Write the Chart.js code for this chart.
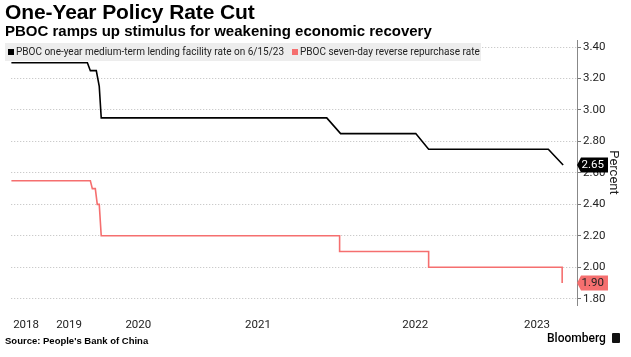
<!DOCTYPE html>
<html>
<head>
<meta charset="utf-8">
<script src="https://cdn.jsdelivr.net/npm/chart.js@4"></script>
<style>
  html, body { margin:0; padding:0; background:#fff; }
  #wrap { position:relative; width:631px; height:357px; overflow:hidden; font-family:"Liberation Sans", Arial, sans-serif; }
  #c { position:absolute; left:0; top:0; }
  .title { position:absolute; left:5px; top:0px; font-size:21px; font-weight:bold; color:#000; white-space:nowrap; letter-spacing:-0.1px; }
  .subtitle { position:absolute; left:5px; top:22px; font-size:15px; font-weight:bold; color:#000; white-space:nowrap; }
  .legend { position:absolute; left:5px; top:43px; width:476px; height:18px; background:#ededed; font-size:10px; color:#222; white-space:nowrap; font-family:"Roboto", sans-serif; }
  .legend span.item { position:absolute; top:3px; }
  .legend i { display:inline-block; width:6px; height:6px; margin-right:2px; vertical-align:0px; }
  .source { position:absolute; left:5px; top:335px; font-size:9.5px; font-weight:bold; color:#000; white-space:nowrap; }
  .bbg { position:absolute; left:547px; top:331px; font-size:12px; color:#000; white-space:nowrap; font-family:"Roboto", sans-serif; font-weight:500; }
  .logo { position:absolute; left:612px; top:333px; width:8px; height:10px; background:#111; border-radius:1px; }
</style>
</head>
<body>
<div id="wrap">
  <canvas id="c" width="631" height="357"></canvas>
  <div class="title">One-Year Policy Rate Cut</div>
  <div class="subtitle">PBOC ramps up stimulus for weakening economic recovery</div>
  <div class="legend">
    <span class="item" style="left:3px"><i style="background:#000"></i>PBOC one-year medium-term lending facility rate on 6/15/23</span>
    <span class="item" style="left:287px"><i style="background:#f56f6f"></i>PBOC seven-day reverse repurchase rate</span>
  </div>
  <div class="source">Source: People's Bank of China</div>
  <div class="bbg">Bloomberg</div>
  <div class="logo"></div>
</div>
<script>
// Observation positions (irregular observation index along the x axis) and rates (%)
const mlfPos  = [0, 15.4, 16.0, 17.2, 17.8, 18.2, 63.8, 66.6, 81.8, 84.4, 108.6, 111.6];
const mlfRate = [3.30, 3.30, 3.25, 3.25, 3.15, 2.95, 2.95, 2.85, 2.85, 2.75, 2.75, 2.65];

const rrPos  = [0, 16.0, 16.4, 17.0, 17.4, 17.8, 18.2, 66.4, 66.4, 84.4, 84.4, 111.4, 111.4];
const rrRate = [2.55, 2.55, 2.50, 2.50, 2.40, 2.40, 2.20, 2.20, 2.10, 2.10, 2.00, 2.00, 1.90];

// Year labels and their positions on the observation index
const xTickPos    = [3.0, 11.7, 25.7, 49.9, 81.7, 106.3];
const xTickLabels = ['2018', '2019', '2020', '2021', '2022', '2023'];

const yTickValues = [1.8, 1.9, 2.0, 2.1, 2.2, 2.3, 2.4, 2.5, 2.6, 2.7, 2.8, 2.9, 3.0, 3.1, 3.2, 3.3, 3.4];
const yTickLabels = ['1.80', '', '2.00', '', '2.20', '', '2.40', '', '2.60', '', '2.80', '', '3.00', '', '3.20', '', '3.40'];

const BLACK = '#000000';
const RED = '#f56f6f';

const endLabels = {
  id: 'endLabels',
  afterDraw(chart) {
    const ctx = chart.ctx;
    const ys = chart.scales.y;
    const x0 = chart.chartArea.right;
    const items = [
      { v: mlfRate[mlfRate.length - 1], bg: BLACK, fg: '#ffffff' },
      { v: rrRate[rrRate.length - 1], bg: RED, fg: '#222222' }
    ];
    ctx.save();
    ctx.font = '11.5px "Roboto", sans-serif';
    items.forEach(it => {
      const y = ys.getPixelForValue(it.v);
      const h = 15, w = 27, a = 4;
      ctx.fillStyle = it.bg;
      ctx.beginPath();
      ctx.moveTo(x0, y);
      ctx.lineTo(x0 + a, y - h / 2);
      ctx.lineTo(x0 + a + w, y - h / 2);
      ctx.lineTo(x0 + a + w, y + h / 2);
      ctx.lineTo(x0 + a, y + h / 2);
      ctx.closePath();
      ctx.fill();
      ctx.fillStyle = it.fg;
      ctx.textAlign = 'left';
      ctx.textBaseline = 'middle';
      ctx.fillText(it.v.toFixed(2), x0 + a + 0.5, y + 0.5);
    });
    ctx.restore();
  }
};

new Chart(document.getElementById('c'), {
  type: 'line',
  data: {
    datasets: [
      {
        label: 'PBOC one-year medium-term lending facility rate on 6/15/23',
        data: mlfPos.map((p, i) => ({ x: p, y: mlfRate[i] })),
        borderColor: BLACK, borderWidth: 1.6, pointRadius: 0, tension: 0
      },
      {
        label: 'PBOC seven-day reverse repurchase rate',
        data: rrPos.map((p, i) => ({ x: p, y: rrRate[i] })),
        borderColor: RED, borderWidth: 1.6, pointRadius: 0, tension: 0
      }
    ]
  },
  options: {
    responsive: false,
    animation: false,
    events: [],
    layout: { padding: { left: 5, top: 40, right: 0, bottom: 0 } },
    plugins: { legend: { display: false }, tooltip: { enabled: false }, title: { display: false } },
    scales: {
      x: {
        type: 'linear', min: 0, max: 114.4,
        grid: { display: false, drawTicks: false },
        border: { display: false },
        afterBuildTicks: s => { s.ticks = xTickPos.map(v => ({ value: v })); },
        afterFit: s => { s.height = 52; },
        ticks: {
          autoSkip: false, maxRotation: 0, padding: 13,
          color: '#222', font: { size: 11.5, family: 'Roboto' },
          callback: (v, i) => xTickLabels[i]
        }
      },
      y: {
        position: 'right', min: 1.76, max: 3.445,
        afterBuildTicks: s => { s.ticks = yTickValues.map(v => ({ value: v })); },
        afterFit: s => { s.width = 54; },
        grid: {
          color: c => (yTickLabels[c.index] ? '#bdbdbd' : 'rgba(0,0,0,0)'),
          tickColor: '#777',
          tickBorderDash: [],
          tickLength: 4,
          lineWidth: 1
        },
        border: { display: true, color: '#888', width: 1, dash: [1, 2] },
        ticks: {
          padding: 2, color: '#222', font: { size: 11.5, family: 'Roboto' },
          callback: (v, i) => yTickLabels[i]
        },
        title: {
          display: true, text: 'Percent', color: '#222',
          font: { size: 13, family: 'Roboto' }, padding: { top: 10, bottom: 0 }
        }
      }
    }
  },
  plugins: [endLabels]
});
</script>
</body>
</html>
